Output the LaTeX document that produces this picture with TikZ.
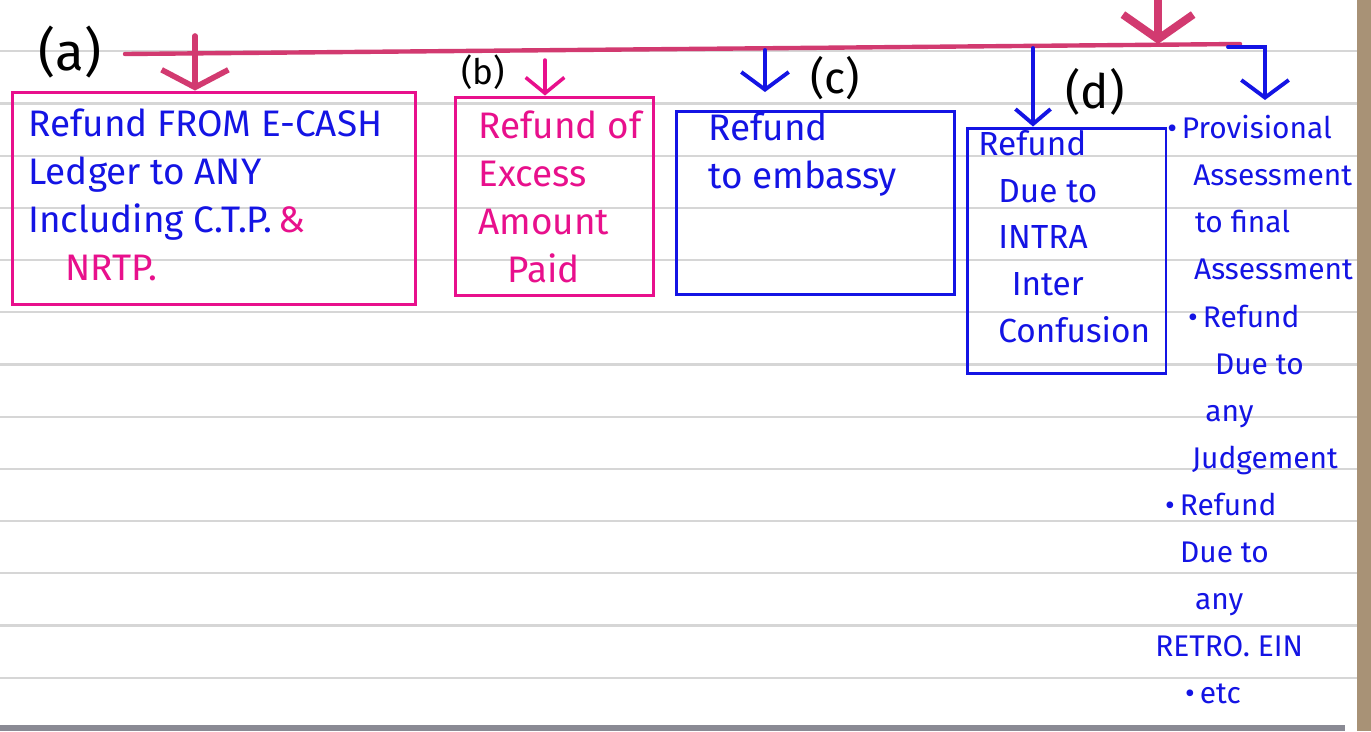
\documentclass[tikz,border=0pt]{standalone}
\usepackage{fontspec}
\setmainfont{Fira Sans}
\usetikzlibrary{arrows.meta}
\definecolor{inkblue}{RGB}{20,20,228}
\definecolor{inkpink}{RGB}{232,16,140}
\definecolor{inkred}{RGB}{210,58,112}
\definecolor{rulegrey}{RGB}{214,214,214}
\definecolor{pagetan}{RGB}{168,146,118}
\definecolor{bargrey}{RGB}{138,138,148}
\tikzset{
  hand/.style={font=\fontsize{21}{27.5}\selectfont, align=left, inner sep=0pt, anchor=north west},
  tag/.style={inner sep=0pt},
  box/.style={draw, line width=1.7pt, inner sep=0pt},
  redarrow/.style={draw=inkred, line width=3.2pt, line cap=round, -{Straight Barb[length=10pt,width=38pt]}},
  bluearrow/.style={draw=inkblue, line width=2.2pt, line cap=round, -{Straight Barb[length=10pt,width=27pt]}}
}
\begin{document}
\begin{tikzpicture}[x=0.02cm, y=-0.02cm]
    \useasboundingbox (0,0) rectangle (1371,731);
    \fill[white] (0,0) rectangle (1371,731);
    \foreach \k in {0,...,12}
      \draw[rulegrey, line width=1.2pt] (0,{51.3+52.2*\k}) -- (1357,{51.3+52.2*\k});
    \fill[bargrey] (0,725) rectangle (1345,731);
    \fill[pagetan] (1357,0) rectangle (1371,731);

    \node[tag, font=\fontsize{30}{30}\selectfont] (taga) at (70,52) {(a)};
    \node[tag, font=\fontsize{20}{20}\selectfont] (tagb) at (483,72) {(b)};
    \node[tag, font=\fontsize{25}{25}\selectfont] (tagc) at (835,78) {(c)};
    \node[tag, font=\fontsize{27}{27}\selectfont] (tagd) at (1095,92) {(d)};

    \node[box, draw=inkpink, minimum width=8.08cm, minimum height=4.26cm] (boxa) at (214,198.5) {};
    \node[box, draw=inkpink, minimum width=3.98cm, minimum height=3.98cm] (boxb) at (554.5,196.5) {};
    \node[box, draw=inkblue, minimum width=5.58cm, minimum height=3.68cm] (boxc) at (815.5,203) {};
    \node[box, draw=inkblue, minimum width=3.98cm, minimum height=4.92cm] (boxd) at (1066.5,251) {};

    \node[hand, text=inkblue] (texta) at (28,108) {Refund FROM E-CASH\\Ledger to ANY\\Including C.T.P.\,\textcolor{inkpink}{\&}\\\textcolor{inkpink}{\hspace{1em}NRTP.}};
    \node[hand, text=inkpink] (textb) at (478,110) {Refund of\\Excess\\Amount\\\hspace{0.8em}Paid};
    \node[hand, text=inkblue] (textc) at (708,112) {Refund\\to embassy};
    \node[hand, text=inkblue, font=\fontsize{19}{26.6}\selectfont] (textd) at (978,130) {Refund\\\hspace{0.6em}Due to\\\hspace{0.6em}INTRA\\\hspace{1em}Inter\\\hspace{0.6em}Confusion};
    \node[hand, text=inkblue, font=\fontsize{17}{26.8}\selectfont] (list) at (1155,115) {\hspace{0.4em}\textbullet\,Provisional\\\hspace{1.27em}Assessment\\\hspace{1.33em}to final\\\hspace{1.3em}Assessment\\\hspace{1.1em}\textbullet\,Refund\\\hspace{2em}Due to\\\hspace{1.67em}any\\\hspace{1.23em}Judgement\\\hspace{0.33em}\textbullet\,Refund\\\hspace{0.83em}Due to\\\hspace{1.33em}any\\RETRO. EIN\\\hspace{1em}\textbullet\,etc};

    \coordinate (barL) at (125,54);
    \coordinate (barR) at (1240,44);
    \draw[inkred, line width=2.5pt, line cap=round] (barL) -- (barR);
    \coordinate (top) at (1158,-4);
    \coordinate (hit) at (1158,44);
    \draw[redarrow, line width=4.5pt, -{Straight Barb[length=14pt,width=40pt]}] (top) -- (hit);

    \coordinate (pa) at (195,36);
    \draw[redarrow] (pa) -- (pa |- boxa.north);
    \coordinate (pb) at (545,60);
    \draw[redarrow, draw=inkpink, line width=2pt, -{Straight Barb[length=9pt,width=22pt]}] (pb) -- (pb |- boxb.north);
    \coordinate (pc) at (765,50);
    \coordinate (ec) at (765,92);
    \draw[bluearrow] (pc) -- (ec);
    \coordinate (pd) at (1033,48);
    \draw[bluearrow, -{Straight Barb[length=8.5pt,width=20pt]}] (pd) -- (pd |- boxd.north);
    \coordinate (hook) at (1228,47);
    \coordinate (ee) at (1265,100);
    \draw[bluearrow] (hook) -| (ee);
  \end{tikzpicture}
\end{document}
